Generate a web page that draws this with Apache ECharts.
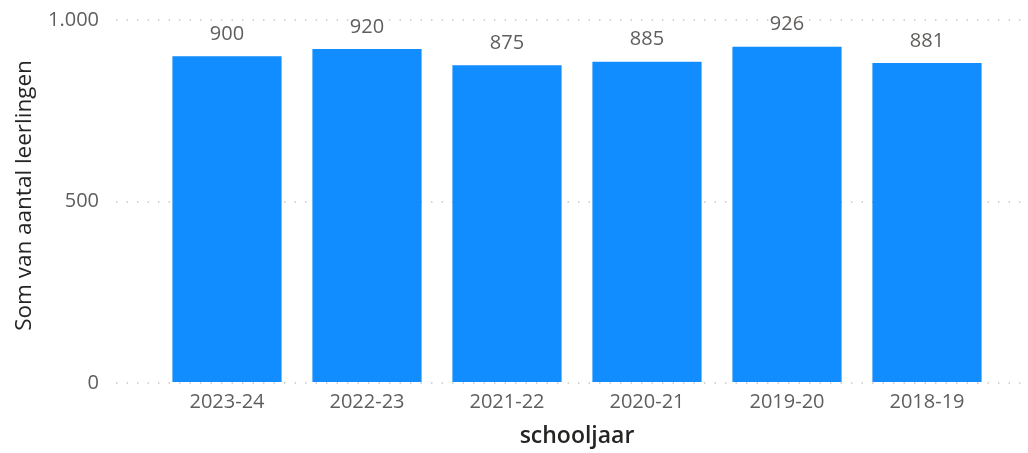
<!DOCTYPE html>
<html>
<head>
<meta charset="utf-8">
<script src="https://cdn.jsdelivr.net/npm/echarts@6/dist/echarts.min.js"></script>
<style>html,body{margin:0;padding:0;background:#fff}#c{width:1028px;height:453px}</style>
</head>
<body>
<div id="c"></div>
<script>
const categories = ['2023-24', '2022-23', '2021-22', '2020-21', '2019-20', '2018-19'];
const values = [900, 920, 875, 885, 926, 881];
const yTicks = [0, 500, 1000];
const xTitle = 'schooljaar';
const yTitle = 'Som van aantal leerlingen';

const FONT = '"Open Sans", "Noto Sans", sans-serif';
const chart = echarts.init(document.getElementById('c'), null, {renderer: 'canvas'});
chart.setOption({
  animation: false,
  grid: [
    {left: 157, right: 31, top: 20, bottom: 70, containLabel: false},
    {left: 116, right: 4, top: 20, bottom: 70, containLabel: false}
  ],
  xAxis: [
    {
      type: 'category', gridIndex: 0, data: categories,
      axisLine: {show: false}, axisTick: {show: false},
      axisLabel: {color: '#605E5C', fontFamily: FONT, fontSize: 20, margin: 10},
      name: xTitle, nameLocation: 'middle', nameGap: 43,
      nameTextStyle: {color: '#252423', fontFamily: FONT, fontSize: 23, fontWeight: 600}
    },
    {type: 'value', gridIndex: 1, min: 0, max: 1, show: false}
  ],
  yAxis: [
    {type: 'value', gridIndex: 0, min: 0, max: 1000, interval: 500, show: false, splitLine: {show: false}},
    {
      type: 'value', gridIndex: 1, min: yTicks[0], max: yTicks[yTicks.length - 1], interval: 500,
      axisLine: {show: false}, axisTick: {show: false},
      axisLabel: {
        color: '#605E5C', fontFamily: FONT, fontSize: 20, margin: 17,
        formatter: v => v.toLocaleString('nl-NL')
      },
      splitLine: {lineStyle: {color: '#C8C6C4', type: [1.5, 9], width: 1.5}},
      name: yTitle, nameLocation: 'middle', nameGap: 80,
      nameTextStyle: {color: '#252423', fontFamily: FONT, fontSize: 22.5, fontWeight: 400, padding: [0, 0, 0, 12]}
    }
  ],
  series: [{
    type: 'bar', xAxisIndex: 0, yAxisIndex: 0, data: values,
    barWidth: '78%',
    itemStyle: {color: '#118DFF'},
    label: {show: true, position: 'top', distance: 12, color: '#605E5C', fontFamily: FONT, fontSize: 20}
  }]
});
</script>
</body>
</html>
